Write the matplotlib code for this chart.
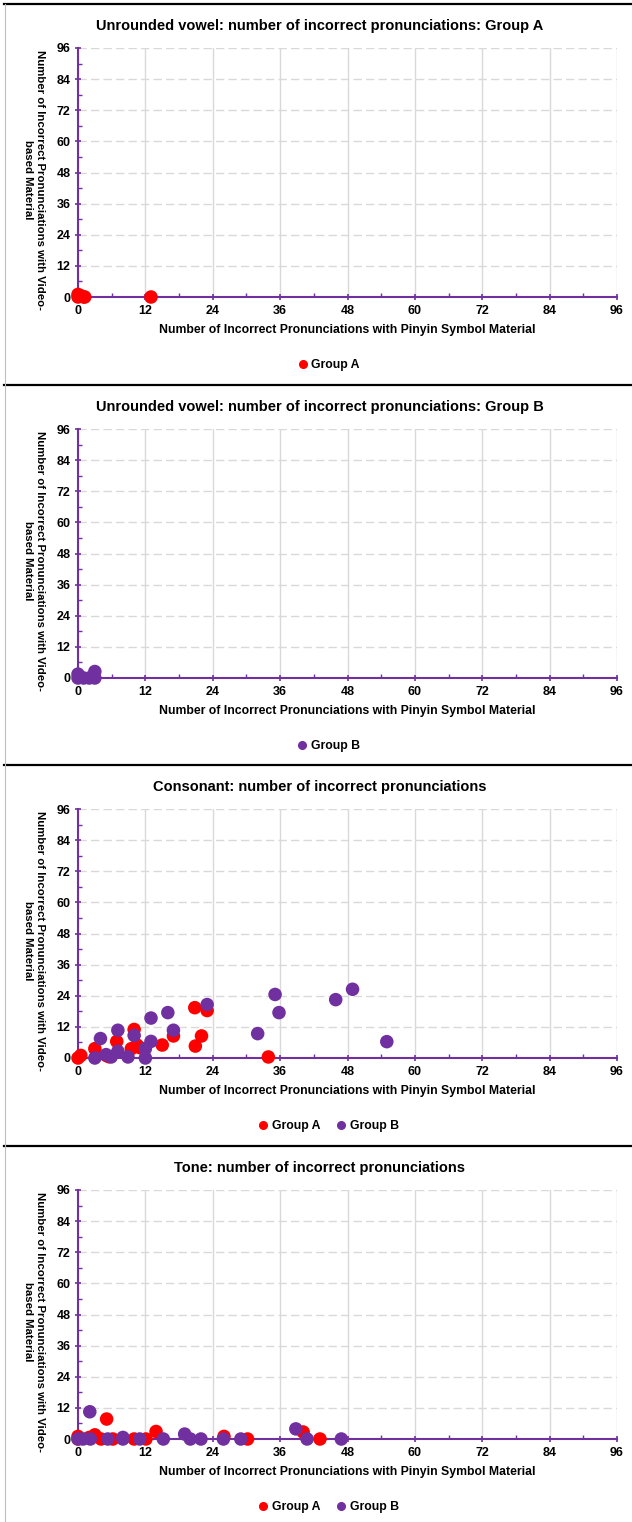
import matplotlib
matplotlib.use("Agg")
import matplotlib.pyplot as plt
from matplotlib.lines import Line2D
from matplotlib.ticker import MultipleLocator

plt.rcParams['font.family'] = ['Liberation Sans', 'DejaVu Sans']
plt.rcParams['font.weight'] = 'bold'

RED = '#FF0000'
PURPLE = '#7030A0'

titles = [
    "Unrounded vowel: number of incorrect pronunciations: Group A",
    "Unrounded vowel: number of incorrect pronunciations: Group B",
    "Consonant: number of incorrect pronunciations",
    "Tone: number of incorrect pronunciations",
]
xlabel = "Number of Incorrect Pronunciations with Pinyin Symbol Material"
ylabel = "Number of Incorrect Pronunciations with Video-\nbased Material"
ticks = [0, 12, 24, 36, 48, 60, 72, 84, 96]

# unrounded vowel, group A
vowel_a_x = [0, 0, 0.5, 1, 1.2, 13]
vowel_a_y = [0, 1, 0.5, 0, 0, 0]

# unrounded vowel, group B
vowel_b_x = [0, 0, 1, 2, 3, 3]
vowel_b_y = [0, 1.5, 0, 0, 0, 2.5]

# consonant
cons_a_x = [0, 0.5, 3, 5, 5.5, 6.9, 9.5, 10, 10.5, 11, 15, 17, 20.8, 20.9, 22, 23, 33.9]
cons_a_y = [0, 1, 3.6, 1, 0.5, 6.4, 3.6, 11, 5, 4, 5, 8.5, 19.4, 4.6, 8.5, 18.3, 0.4]
cons_b_x = [3, 4, 5, 5.9, 7.1, 7.1, 8.9, 10, 12, 12, 13, 13, 16, 17, 23, 32, 35.1, 35.8, 45.9, 48.9, 55]
cons_b_y = [0, 7.5, 1.3, 0.4, 10.7, 2.6, 0.4, 8.7, 3.6, 0, 6.4, 15.4, 17.5, 10.7, 20.6, 9.4, 24.5, 17.5, 22.5, 26.5, 6.3]

# tone
tone_a_x = [0, 0, 2, 3, 4.1, 5.1, 6.2, 10, 12.1, 13.9, 26, 30.2, 40.1, 43.1]
tone_a_y = [0, 1, 0.6, 1.6, 0, 7.7, 0, 0, 0, 2.9, 1, 0, 2.7, 0]
tone_b_x = [0, 0.9, 2.1, 2.2, 5.3, 8, 8, 11, 15.2, 19, 20, 21.9, 25.9, 29, 38.8, 40.8, 46.9]
tone_b_y = [0, 0, 10.5, 0, 0, 0, 0.6, 0, 0, 1.9, 0, 0, 0, 0, 3.9, 0, 0]

panels = [
    [("Group A", vowel_a_x, vowel_a_y, RED)],
    [("Group B", vowel_b_x, vowel_b_y, PURPLE)],
    [("Group A", cons_a_x, cons_a_y, RED), ("Group B", cons_b_x, cons_b_y, PURPLE)],
    [("Group A", tone_a_x, tone_a_y, RED), ("Group B", tone_b_x, tone_b_y, PURPLE)],
]

W, H = 632, 1522
fig = plt.figure(figsize=(W / 100, H / 100), dpi=100)

panel_tops = [4, 385, 765, 1146]
ax_left, ax_right = 78, 617

def fx(px):
    return px / W

def fy(py):
    return 1 - py / H

for i, series in enumerate(panels):
    top = panel_tops[i]
    ax_top = top + 44
    ax_bot = top + 293
    ax = fig.add_axes([fx(ax_left), fy(ax_bot), fx(ax_right - ax_left), (ax_bot - ax_top) / H])
    ax.set_xlim(0, 96)
    ax.set_ylim(0, 96)
    ax.xaxis.set_major_locator(MultipleLocator(12))
    ax.yaxis.set_major_locator(MultipleLocator(12))
    ax.xaxis.set_minor_locator(MultipleLocator(6))
    ax.yaxis.set_minor_locator(MultipleLocator(6))
    ax.grid(True, axis='x', which='major', color='#D9D9D9', lw=1, ls='-')
    ax.grid(True, axis='y', which='major', color='#D9D9D9', lw=1, ls=(0, (6, 3)))
    ax.set_axisbelow(True)
    for s in ['top', 'right']:
        ax.spines[s].set_visible(False)
    for s in ['left', 'bottom']:
        ax.spines[s].set_color(PURPLE)
        ax.spines[s].set_linewidth(1.5)
    ax.tick_params(which='major', direction='inout', length=5, width=1.2, color=PURPLE,
                   labelsize=9, labelcolor='black', pad=3)
    ax.tick_params(which='minor', direction='in', length=3, width=1, color=PURPLE)
    ax.set_xticks(ticks)
    ax.set_yticks(ticks)
    ax.set_xticklabels([str(t) for t in ticks], fontweight='bold')
    ax.set_yticklabels([str(t) for t in ticks], fontweight='bold')
    ax.set_xlabel(xlabel, fontsize=8.8, fontweight='bold', labelpad=5)
    ax.set_ylabel(ylabel, fontsize=8.2, fontweight='bold', rotation=270, labelpad=3,
                  linespacing=1.2)
    ax.yaxis.set_label_coords(-0.102, 0.47)

    handles = []
    for name, xs, ys, col in series:
        ax.scatter(xs, ys, s=95, color=col, edgecolors='none', clip_on=False, zorder=5)
        handles.append(Line2D([], [], marker='o', ls='none', color=col, markersize=5.5, label=name))

    fig.text(fx(320), fy(top + 22), titles[i], ha='center', va='center',
             fontsize=10.5, fontweight='bold')
    fig.legend(handles=handles, loc='center', bbox_to_anchor=(fx(325), fy(top + 361)),
               ncol=len(handles), frameon=False, handletextpad=-0.3, columnspacing=0.7,
               prop={'size': 8.8, 'weight': 'bold'})

# panel separators
for t in panel_tops:
    fig.add_artist(Line2D([fx(4), 1], [fy(t), fy(t)], color='black', lw=1.6))
fig.add_artist(Line2D([fx(5), fx(5)], [fy(4), 0], color='#BFBFBF', lw=0.8))

fig.savefig("out.png", dpi=100)
